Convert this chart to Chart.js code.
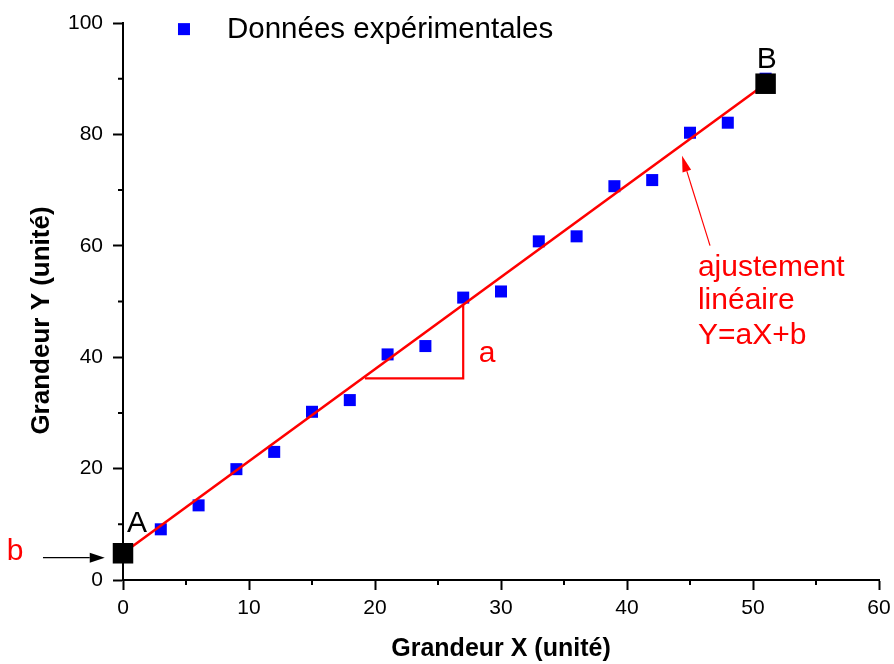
<!DOCTYPE html>
<html>
<head>
<meta charset="utf-8">
<script src="https://cdn.jsdelivr.net/npm/chart.js@4.4.1/dist/chart.umd.min.js"></script>
<style>
    html, body { margin: 0; padding: 0; background: #fff; }
</style>
</head>
<body>
<canvas id="chart" width="894" height="664"></canvas>
<script>
const FONT = '"Liberation Sans", Arial, Helvetica, sans-serif';

// ---- DATA ----
// experimental points (read off the picture)
const expX = [0, 3, 6, 9, 12, 15, 18, 21, 24, 27, 30, 33, 36, 39, 42, 45, 48, 51];
const expY = [4.2, 9.1, 13.4, 19.9, 23.0, 30.2, 32.3, 40.5, 42.0, 50.7, 51.8, 60.8, 61.7, 70.7, 71.8, 80.3, 82.1, 90.0];

// linear fit drawn between A and B
const fitX = [0, 51];
const fitY = [4.8, 89.1];

// slope triangle under the fit line
const triX = [19.2, 27, 27];
const triY = [36.2, 36.2, 49.4];

// axes
const xRange = [0, 60];
const yRange = [0, 100];
const xStep = 10;
const yStep = 20;
const xMinor = [5, 15, 25, 35, 45, 55];
const yMinor = [10, 30, 50, 70, 90];

const legendLabel = "Données expérimentales";
const xTitle = "Grandeur X (unité)";
const yTitle = "Grandeur Y (unité)";

const toPoints = (xs, ys) => xs.map((v, i) => ({ x: v, y: ys[i] }));

// ---- HELPERS ----
function drawArrow(ctx, x1, y1, x2, y2, color, width, headLen, headHalf) {
    const ang = Math.atan2(y2 - y1, x2 - x1);
    const bx = x2 - headLen * Math.cos(ang);
    const by = y2 - headLen * Math.sin(ang);
    ctx.strokeStyle = color;
    ctx.fillStyle = color;
    ctx.lineWidth = width;
    ctx.beginPath();
    ctx.moveTo(x1, y1);
    ctx.lineTo(bx, by);
    ctx.stroke();
    ctx.beginPath();
    ctx.moveTo(x2, y2);
    ctx.lineTo(bx + headHalf * Math.sin(ang), by - headHalf * Math.cos(ang));
    ctx.lineTo(bx - headHalf * Math.sin(ang), by + headHalf * Math.cos(ang));
    ctx.closePath();
    ctx.fill();
}

// ---- ANNOTATIONS (minor ticks, legend, labels, arrows) ----
const annotationPlugin = {
    id: 'annotations',
    afterDraw(chart) {
        const { ctx, chartArea, scales: { x, y } } = chart;
        const px = v => x.getPixelForValue(v);
        const py = v => y.getPixelForValue(v);
        ctx.save();

        // minor ticks
        ctx.strokeStyle = '#000';
        ctx.lineWidth = 2;
        ctx.beginPath();
        xMinor.forEach(v => {
            ctx.moveTo(px(v), chartArea.bottom);
            ctx.lineTo(px(v), chartArea.bottom + 5);
        });
        yMinor.forEach(v => {
            ctx.moveTo(chartArea.left, py(v));
            ctx.lineTo(chartArea.left - 5, py(v));
        });
        ctx.stroke();

        // y axis title
        ctx.save();
        ctx.translate(42, (chartArea.top + chartArea.bottom) / 2 + 19);
        ctx.rotate(-Math.PI / 2);
        ctx.font = 'bold 26px ' + FONT;
        ctx.fillStyle = '#000';
        ctx.textAlign = 'center';
        ctx.textBaseline = 'middle';
        ctx.fillText(yTitle, 0, 0);
        ctx.restore();

        // legend
        const ds = chart.data.datasets.find(d => d.label === legendLabel);
        ctx.fillStyle = ds.backgroundColor;
        ctx.fillRect(px(4.84) - 6, py(98.9) - 6, 12, 12);
        ctx.fillStyle = '#000';
        ctx.font = '29.5px ' + FONT;
        ctx.textAlign = 'left';
        ctx.textBaseline = 'alphabetic';
        ctx.fillText(legendLabel, px(8.25), py(97.3));

        // point labels A and B
        ctx.font = '30px ' + FONT;
        ctx.textAlign = 'center';
        ctx.fillText('A', px(1.11), py(8.6));
        ctx.fillText('B', px(51.1), py(91.9));

        // red labels
        ctx.fillStyle = '#ff0000';
        ctx.font = '30px ' + FONT;
        ctx.fillText('b', px(-8.57), py(3.58));
        ctx.fillText('a', px(28.9), py(39.07));
        ctx.textAlign = 'left';
        ctx.fillText('ajustement', px(45.63), py(54.66));
        ctx.fillText('linéaire', px(45.63), py(48.57));
        ctx.fillText('Y=aX+b', px(45.63), py(42.29));

        // arrows
        drawArrow(ctx, px(-6.35), py(4.0), px(-1.45), py(4.0), '#000', 1.2, 15, 5);
        drawArrow(ctx, px(46.59), py(60.04), px(44.37), py(76.16), '#ff0000', 1.2, 16, 4.5);

        ctx.restore();
    }
};

// ---- CHART ----
const axisFont = { family: FONT, size: 21 };

new Chart(document.getElementById('chart').getContext('2d'), {
    type: 'scatter',
    data: {
        datasets: [
            {
                label: 'A-B',
                data: toPoints(fitX, fitY),
                pointStyle: 'rect',
                pointRadius: 14.5,
                pointBorderWidth: 0,
                backgroundColor: '#000',
                borderColor: '#000',
                showLine: false,
                clip: false,
                order: 0
            },
            {
                label: 'fit',
                type: 'line',
                data: toPoints(fitX, fitY),
                borderColor: '#ff0000',
                borderWidth: 2.6,
                pointRadius: 0,
                fill: false,
                clip: false,
                order: 1
            },
            {
                label: 'triangle',
                type: 'line',
                data: toPoints(triX, triY),
                borderColor: '#ff0000',
                borderWidth: 2.2,
                pointRadius: 0,
                fill: false,
                clip: false,
                order: 2
            },
            {
                label: legendLabel,
                data: toPoints(expX, expY),
                pointStyle: 'rect',
                pointRadius: 8.5,
                pointBorderWidth: 0,
                backgroundColor: '#0000ff',
                borderColor: '#0000ff',
                clip: false,
                order: 3
            }
        ]
    },
    options: {
        responsive: false,
        animation: false,
        layout: { padding: { top: 23, right: 15, left: 0, bottom: 0 } },
        plugins: {
            legend: { display: false },
            tooltip: { enabled: false }
        },
        scales: {
            x: {
                type: 'linear',
                min: xRange[0],
                max: xRange[1],
                ticks: { stepSize: xStep, color: '#000', font: axisFont, padding: 6, maxRotation: 0 },
                grid: { drawOnChartArea: false, drawTicks: true, tickLength: 10, tickWidth: 2, tickColor: '#000' },
                border: { display: true, color: '#000', width: 2 },
                title: {
                    display: true,
                    text: xTitle,
                    color: '#000',
                    font: { family: FONT, size: 25, weight: 'bold' },
                    padding: { top: 0, bottom: 0 }
                },
                afterFit: scale => {
                    scale.height = 84;
                    scale.paddingLeft = 0;
                    scale.paddingRight = 0;
                }
            },
            y: {
                type: 'linear',
                min: yRange[0],
                max: yRange[1],
                ticks: { stepSize: yStep, color: '#000', font: axisFont, padding: 10 },
                grid: { drawOnChartArea: false, drawTicks: true, tickLength: 10, tickWidth: 2, tickColor: '#000' },
                border: { display: true, color: '#000', width: 2 },
                afterFit: scale => {
                    scale.width = 123;
                    scale.paddingTop = 0;
                    scale.paddingBottom = 0;
                }
            }
        }
    },
    plugins: [annotationPlugin]
});
</script>
</body>
</html>
